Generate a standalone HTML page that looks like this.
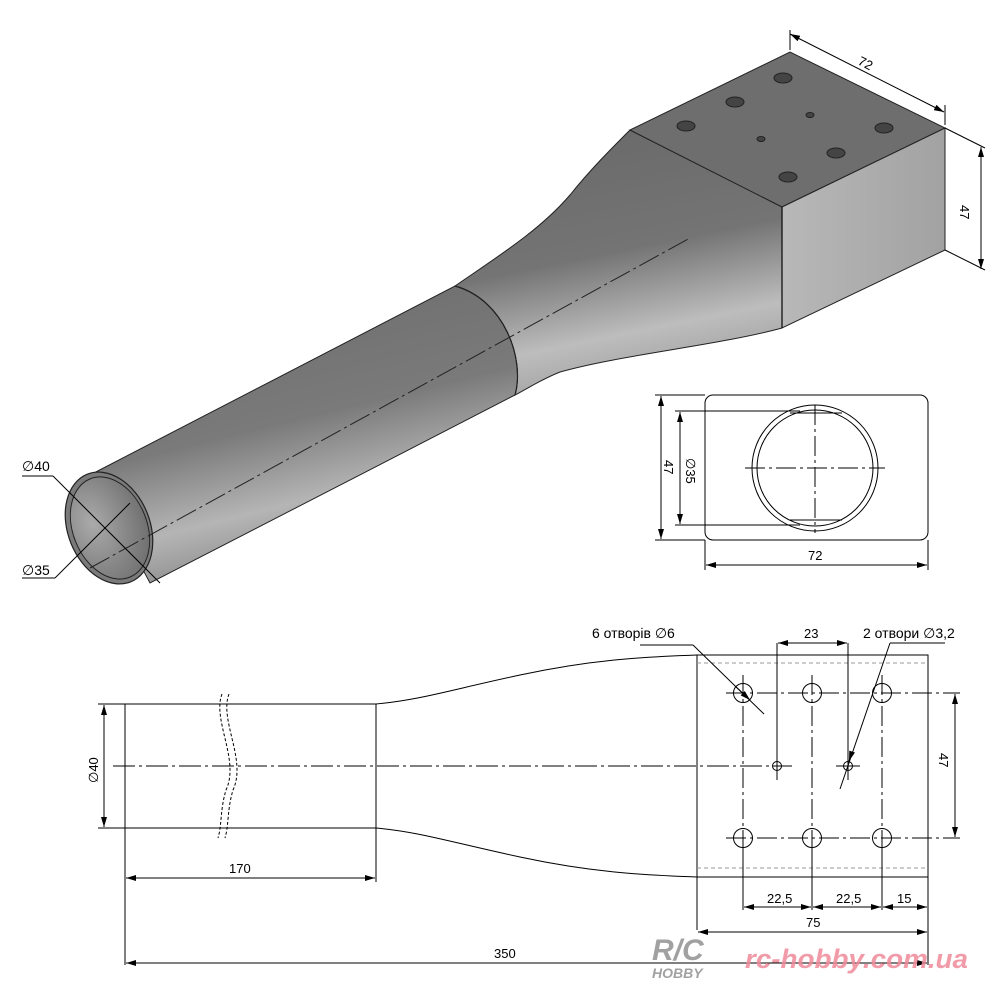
<!DOCTYPE html>
<html><head><meta charset="utf-8"><style>
html,body{margin:0;padding:0;background:#fff}
svg{display:block}
text{font-family:"Liberation Sans","DejaVu Sans",sans-serif}
</style></head><body>
<svg width="1000" height="1000" viewBox="0 0 1000 1000" xmlns="http://www.w3.org/2000/svg">
<defs>
<linearGradient id="tube" x1="0" y1="0" x2="0.35" y2="1">
<stop offset="0" stop-color="#6a6a6a"/><stop offset="0.55" stop-color="#7a7a7a"/><stop offset="0.8" stop-color="#b5b5b5"/><stop offset="1" stop-color="#888"/>
</linearGradient>
<linearGradient id="trans" x1="0.2" y1="0" x2="0.45" y2="1">
<stop offset="0" stop-color="#696969"/><stop offset="0.5" stop-color="#747474"/><stop offset="0.8" stop-color="#bdbdbd"/><stop offset="1" stop-color="#a0a0a0"/>
</linearGradient>
<linearGradient id="side" x1="0" y1="0" x2="1" y2="0">
<stop offset="0" stop-color="#b8b8b8"/><stop offset="1" stop-color="#a2a2a2"/>
</linearGradient>
<radialGradient id="inner" cx="0.3" cy="0.4" r="0.8">
<stop offset="0" stop-color="#aaa"/><stop offset="1" stop-color="#6a6a6a"/>
</radialGradient>
<marker id="a" viewBox="0 0 10 6" refX="10" refY="3" markerWidth="10" markerHeight="6" orient="auto-start-reverse" markerUnits="userSpaceOnUse"><path d="M0,0 L10,3 L0,6 z" fill="#000"/></marker>
</defs>

<path d="M455,286 C500,255 540,230 570,195 C590,170 610,150 630,130 L782,207 L782,328 C720,345 620,355 560,372 C540,380 525,390 515,395 C525,360 505,300 455,286 Z" fill="url(#trans)" stroke="#222" stroke-width="1"/>
<path d="M92,474 L455,286 C505,300 525,360 515,395 L150,583 Z" fill="url(#tube)" stroke="#222" stroke-width="1"/>
<path d="M455,286 C505,300 525,360 515,395" fill="none" stroke="#222" stroke-width="1.2"/>
<ellipse cx="109" cy="528" rx="41" ry="58" transform="rotate(-22 109 528)" fill="#7a7a7a" stroke="#222" stroke-width="1.2"/>
<ellipse cx="110" cy="528" rx="37" ry="53" transform="rotate(-22 110 528)" fill="url(#inner)" stroke="#222" stroke-width="1"/>
<path d="M630,130 L790,52 L945,128 L782,207 Z" fill="#6e6e6e" stroke="#222" stroke-width="1"/>
<path d="M782,207 L945,128 L945,250 L782,328 Z" fill="url(#side)" stroke="#222" stroke-width="1"/>
<line x1="782" y1="207" x2="782" y2="328" stroke="#111" stroke-width="1.3"/>
<g fill="#444" stroke="#222" stroke-width="1">
<ellipse cx="783" cy="78" rx="9" ry="5"/><ellipse cx="735" cy="102" rx="9" ry="5"/><ellipse cx="686" cy="126" rx="9" ry="5"/>
<ellipse cx="884" cy="128" rx="9" ry="5"/><ellipse cx="836" cy="153" rx="9" ry="5"/><ellipse cx="788" cy="177" rx="9" ry="5"/>
<ellipse cx="810" cy="115" rx="4" ry="2.5"/><ellipse cx="761" cy="139" rx="4" ry="2.5"/>
</g>
<line x1="90" y1="568" x2="690" y2="238" stroke="#222" stroke-width="1" stroke-dasharray="22,4,3,4"/>
<g stroke="#000" stroke-width="1" fill="none">
<line x1="790" y1="50" x2="790" y2="30"/><line x1="945" y1="125" x2="945" y2="105"/>
<line x1="790" y1="34" x2="944" y2="112" marker-start="url(#a)" marker-end="url(#a)"/>
<line x1="945" y1="128" x2="985" y2="148"/><line x1="945" y1="250" x2="985" y2="270"/>
<line x1="981" y1="147" x2="981" y2="269" marker-start="url(#a)" marker-end="url(#a)"/>
<line x1="22" y1="476" x2="53" y2="476"/><line x1="53" y1="476" x2="160" y2="583"/>
<line x1="22" y1="578" x2="55" y2="578"/><line x1="55" y1="578" x2="130" y2="503"/>
</g>
<text x="858" y="68" font-size="13" transform="rotate(27 866 64)">72</text>
<text x="0" y="0" font-size="13" transform="translate(960,205) rotate(90)">47</text>
<text x="22" y="471" font-size="14">∅40</text>
<text x="22" y="575" font-size="14">∅35</text>

<g stroke="#000" stroke-width="1" fill="none">
<rect x="705" y="395" width="223" height="145" rx="8"/>
<circle cx="815" cy="468" r="63"/><circle cx="815" cy="468" r="58"/>
<line x1="790" y1="413" x2="842" y2="413"/><line x1="790" y1="520" x2="842" y2="520"/>
<line x1="745" y1="468" x2="885" y2="468" stroke-dasharray="20,4,3,4"/>
<line x1="815" y1="405" x2="815" y2="533" stroke-dasharray="20,4,3,4"/>
<line x1="655" y1="395" x2="705" y2="395"/><line x1="655" y1="540" x2="705" y2="540"/>
<line x1="661" y1="396" x2="661" y2="539" marker-start="url(#a)" marker-end="url(#a)"/>
<line x1="675" y1="411" x2="800" y2="411"/><line x1="675" y1="525" x2="800" y2="525"/>
<line x1="680" y1="412" x2="680" y2="524" marker-start="url(#a)" marker-end="url(#a)"/>
<line x1="705" y1="540" x2="705" y2="570"/><line x1="928" y1="540" x2="928" y2="570"/>
<line x1="706" y1="565" x2="927" y2="565" marker-start="url(#a)" marker-end="url(#a)"/>
</g>
<text font-size="13" transform="translate(664,460) rotate(90)">47</text>
<text font-size="13" transform="translate(686,458) rotate(90)">∅35</text>
<text x="808" y="560" font-size="13">72</text>

<g stroke="#000" stroke-width="1" fill="none">
<line x1="125" y1="704" x2="376" y2="704"/><line x1="125" y1="828" x2="376" y2="828"/>
<line x1="125" y1="704" x2="125" y2="965"/><line x1="376" y1="704" x2="376" y2="882"/>
<path d="M376,704 C420,700 450,690 520,675 C590,660 640,657 697,655"/>
<path d="M376,828 C420,832 450,842 520,857 C590,872 640,875 697,877"/>
<rect x="697" y="655" width="231" height="222"/>
<line x1="928" y1="877" x2="928" y2="965"/>
<line x1="697" y1="877" x2="697" y2="930"/>
<line x1="697" y1="663" x2="928" y2="663" stroke="#999" stroke-dasharray="4,3"/>
<line x1="697" y1="868" x2="928" y2="868" stroke="#999" stroke-dasharray="4,3"/>
<path d="M222,694 C212,720 240,760 226,790 C220,810 222,825 218,838" stroke-dasharray="3,2"/>
<path d="M229,694 C219,720 247,760 233,790 C227,810 229,825 225,838" stroke-dasharray="3,2"/>
<line x1="113" y1="766" x2="792" y2="766" stroke-dasharray="22,4,3,4"/>
<line x1="836" y1="766" x2="860" y2="766"/>
<line x1="98" y1="704" x2="125" y2="704"/><line x1="98" y1="828" x2="125" y2="828"/>
<line x1="104" y1="705" x2="104" y2="827" marker-start="url(#a)" marker-end="url(#a)"/>
<line x1="126" y1="878" x2="375" y2="878" marker-start="url(#a)" marker-end="url(#a)"/>
<line x1="126" y1="963" x2="927" y2="963" marker-start="url(#a)" marker-end="url(#a)"/>
<line x1="698" y1="932" x2="927" y2="932" marker-start="url(#a)" marker-end="url(#a)"/>
<circle cx="743" cy="693" r="9.5"/><circle cx="812" cy="693" r="9.5"/><circle cx="882" cy="693" r="9.5"/>
<circle cx="743" cy="838" r="9.5"/><circle cx="812" cy="838" r="9.5"/><circle cx="882" cy="838" r="9.5"/>
<circle cx="777" cy="766" r="4.5"/><circle cx="848" cy="766" r="4.5"/>
<g stroke-dasharray="20,4,3,4">
<line x1="726" y1="693" x2="960" y2="693"/><line x1="726" y1="838" x2="960" y2="838"/>
<line x1="743" y1="675" x2="743" y2="910"/><line x1="812" y1="675" x2="812" y2="910"/><line x1="882" y1="675" x2="882" y2="910"/>
</g>
<line x1="743" y1="838" x2="743" y2="910"/><line x1="812" y1="838" x2="812" y2="910"/><line x1="882" y1="838" x2="882" y2="910"/>
<line x1="777" y1="643" x2="777" y2="780"/><line x1="848" y1="643" x2="848" y2="780"/>
<line x1="778" y1="643" x2="847" y2="643" marker-start="url(#a)" marker-end="url(#a)"/>
<line x1="744" y1="907" x2="811" y2="907" marker-start="url(#a)" marker-end="url(#a)"/>
<line x1="813" y1="907" x2="881" y2="907" marker-start="url(#a)" marker-end="url(#a)"/>
<line x1="883" y1="907" x2="927" y2="907" marker-start="url(#a)" marker-end="url(#a)"/>
<line x1="955" y1="694" x2="955" y2="837" marker-start="url(#a)" marker-end="url(#a)"/>
<line x1="640" y1="645" x2="693" y2="645"/><line x1="693" y1="645" x2="764" y2="714"/>
<line x1="735" y1="686" x2="750" y2="700" marker-end="url(#a)"/>
<line x1="890" y1="643" x2="945" y2="643"/><line x1="890" y1="643" x2="840" y2="789"/>
<line x1="852" y1="752" x2="849" y2="761" marker-end="url(#a)"/>
</g>
<text font-size="13" transform="translate(98,783) rotate(-90)">∅40</text>
<text x="229" y="873" font-size="13">170</text>
<text x="494" y="958" font-size="13">350</text>
<text x="804" y="638" font-size="13">23</text>
<text x="767" y="903" font-size="13">22,5</text>
<text x="836" y="903" font-size="13">22,5</text>
<text x="897" y="903" font-size="13">15</text>
<text x="806" y="927" font-size="13">75</text>
<text font-size="13" transform="translate(939,753) rotate(90)">47</text>
<text x="592" y="638" font-size="14">6 отворів  ∅6</text>
<text x="863" y="638" font-size="14">2 отвори ∅3,2</text>

<text x="652" y="960" font-size="30" font-weight="bold" font-style="italic" fill="#8a8a8a" opacity="0.8">R/C</text>
<text x="652" y="978" font-size="14" font-weight="bold" font-style="italic" fill="#8a8a8a" opacity="0.8">HOBBY</text>
<text x="745" y="968" font-size="27" font-weight="bold" font-style="italic" fill="#f08a9a" opacity="0.85" textLength="223" lengthAdjust="spacingAndGlyphs">rc-hobby.com.ua</text>
</svg>
</body></html>
